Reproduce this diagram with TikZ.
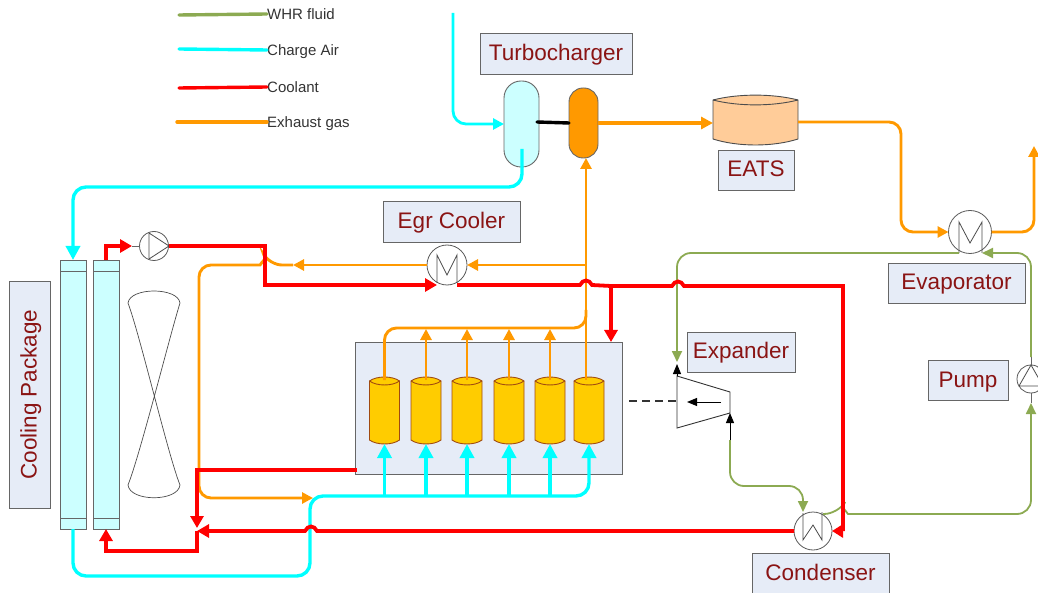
\documentclass[tikz,border=0pt]{standalone}
\usepackage{fontspec}
\setmainfont{Liberation Sans}
\usetikzlibrary{arrows.meta}
\definecolor{tagfill}{HTML}{E6ECF7}
\definecolor{tagtext}{HTML}{8A1414}
\definecolor{whr}{HTML}{8CAA52}
\definecolor{exhaust}{HTML}{FF9900}
\definecolor{cyan2}{HTML}{00FFFF}
\definecolor{paleair}{HTML}{CCFFFF}
\definecolor{cylfill}{HTML}{FFCC00}
\definecolor{cylline}{HTML}{A04A10}
\definecolor{eatsfill}{HTML}{FFCC99}
\tikzset{
	tag/.style={draw=black!60,fill=tagfill,line width=0.9pt,text=tagtext,inner sep=0pt,outer sep=0pt,text height=17pt,text depth=3pt,font=\fontsize{22.5}{26}\selectfont},
	legendtext/.style={anchor=west,inner sep=0pt,text=black!80,text height=13pt,text depth=1pt,font=\fontsize{15}{18}\selectfont},
	exch/.style={circle,draw=black!65,line width=0.8pt,fill=white,inner sep=0pt,outer sep=0pt},
	cooler/.style={draw=black!60,fill=paleair,line width=0.9pt,inner sep=0pt,outer sep=0pt,minimum width=26pt,minimum height=269pt},
	cylbox/.style={inner sep=0pt,outer sep=0pt,minimum width=30pt,minimum height=67pt},
	tipair/.style={-{Triangle[length=14pt,width=14pt]}},
	tiphot/.style={-{Triangle[length=12pt,width=13pt]}},
	tipexh/.style={-{Triangle[length=11pt,width=11pt]}},
	tipwhr/.style={-{Triangle[length=11pt,width=10pt]}},
	tipblk/.style={-{Triangle[length=10pt,width=8pt]}},
	air/.style={cyan2,line width=3.4pt,rounded corners=13pt},
	coolant/.style={red,line width=3.8pt,line join=miter},
	exh/.style={exhaust,line width=2.9pt,rounded corners=12pt},
	wf/.style={whr,line width=1.8pt,rounded corners=14pt},
	stub/.style={draw=black!60,line width=0.8pt}
}
\begin{document}
\begin{tikzpicture}[x=1pt,y=-1pt]
	\clip (0,0) rectangle (1038,593);
	% legend
	\node[legendtext] (lgwhr) at (267,14) {WHR fluid};
	\node[legendtext] (lgair) at (267,50) {Charge Air};
	\node[legendtext] (lgcool) at (267,87) {Coolant};
	\node[legendtext] (lgexh) at (267,122) {Exhaust gas};
	\coordinate (lgwhr0) at (179,15);
	\coordinate (lgair0) at (179,49);
	\coordinate (lgcool0) at (179,88);
	\coordinate (lgexh0) at (177,122);
	\draw[whr,line width=3.4pt,line cap=round] (lgwhr0) -- (lgwhr.west);
	\draw[cyan2,line width=3.4pt,line cap=round] (lgair0) -- (lgair.west);
	\draw[red,line width=3.4pt,line cap=round] (lgcool0) -- (lgcool.west);
	\draw[exhaust,line width=3.4pt,line cap=round] (lgexh0) -- (lgexh.west);

	% labels
	\node[tag,minimum width=152pt,minimum height=41pt] (tagturbo) at (556,53.5) {Turbocharger};
	\node[tag,minimum width=137pt,minimum height=41pt] (tagegr) at (451.5,221.5) {Egr Cooler};
	\node[tag,minimum width=76pt,minimum height=40pt] (tageats) at (756,170) {EATS};
	\node[tag,minimum width=137pt,minimum height=40pt] (tagevap) at (956.5,283) {Evaporator};
	\node[tag,minimum width=108pt,minimum height=40pt] (tagexp) at (741,352) {Expander};
	\node[tag,minimum width=80pt,minimum height=40pt] (tagpump) at (968,380) {Pump};
	\node[tag,minimum width=137pt,minimum height=41pt] (tagcond) at (820.5,573.5) {Condenser};
	\node[tag,minimum width=227pt,minimum height=41pt,rotate=90] (tagcp) at (29.5,394.5) {Cooling Package};

	% cooling package
	\node[cooler] (cool1) at (73,394.5) {};
	\node[cooler] (cool2) at (106,394.5) {};
	\foreach \i in {1,2}{
		\draw[black!60,line width=0.9pt] (cool\i.north west) ++(0,11) -- ++(26,0);
		\draw[black!60,line width=0.9pt] (cool\i.south west) ++(0,-11) -- ++(26,0);
	}
	% fan
	\draw[black!70,line width=0.7pt] (128,303) .. controls (130,287) and (178,287) .. (180,303)
		.. controls (170,335) and (140,455) .. (128,485)
		.. controls (130,502) and (178,502) .. (180,485)
		.. controls (168,455) and (140,335) .. (128,303) -- cycle;

	% engine
	\node[draw=black!60,fill=tagfill,line width=0.9pt,inner sep=0pt,outer sep=0pt,minimum width=267pt,minimum height=132pt] (engine) at (488.5,408) {};
	\foreach \i/\x in {1/384.5,2/426,3/467,4/509,5/550,6/589}{
		\node[cylbox] (cyl\i) at (\x,410.5) {};
		\draw[cylline,fill=cylfill,line width=0.9pt] (\x-15,381) .. controls (\x-8,375.7) and (\x+8,375.7) .. (\x+15,381)
			-- (\x+15,440) .. controls (\x+8,445.3) and (\x-8,445.3) .. (\x-15,440) -- cycle;
		\draw[cylline,line width=0.9pt] (\x-15,381) .. controls (\x-8,386.3) and (\x+8,386.3) .. (\x+15,381);
	}

	% turbocharger, eats
	\node[draw=black!60,fill=paleair,line width=0.9pt,rounded corners=17pt,inner sep=0pt,outer sep=0pt,minimum width=35pt,minimum height=86pt] (comp) at (521.5,124) {};
	\node[draw=black!60,fill=exhaust,line width=0.9pt,rounded corners=14pt,inner sep=0pt,outer sep=0pt,minimum width=29pt,minimum height=70pt] (turb) at (583.5,123) {};
	\node[inner sep=0pt,outer sep=0pt,minimum width=85pt,minimum height=50pt] (eats) at (755.5,120) {};
	\draw[black!70,fill=eatsfill,line width=0.9pt] (713,100) .. controls (738,93.5) and (773,93.5) .. (798,100)
		-- (798,139) .. controls (773,147) and (738,147) .. (713,139) -- cycle;
	\draw[black!70,line width=0.9pt] (713,100) .. controls (738,106.5) and (773,106.5) .. (798,100);
	\draw[black,line width=3.4pt,line cap=round] (comp.east) ++(-2,-2) -- (turb.west);

	% exchangers and pumps
	\node[exch,minimum size=40pt] (egr) at (447,265) {};
	\node[exch,minimum size=43pt] (evap) at (970,232) {};
	\node[exch,minimum size=38pt] (cond) at (813,531) {};
	\node[exch,minimum size=29pt] (pumpl) at (154,246) {};
	\node[exch,minimum size=28pt] (pumpr) at (1031,379) {};
	\draw[black!70,line width=0.8pt] (437,283) -- (437,255) -- (447,275) -- (457,255) -- (457,283);
	\draw[black!70,line width=0.8pt] (959,253) -- (959,222) -- (970,243) -- (982,222) -- (982,253);
	\draw[black!70,line width=0.8pt] (803,513) -- (803,540) -- (813,525) -- (822,540) -- (822,512);
	\draw[black!70,line width=0.8pt] (149,233) -- (169,246) -- (149,259) -- cycle;
	\draw[black!70,line width=0.8pt] (1031,365) -- (1019,386) -- (1043,386) -- cycle;

	% expander
	\coordinate (expa) at (677,376);
	\coordinate (expb) at (730,392);
	\coordinate (expc) at (730,413);
	\coordinate (expd) at (677,428);
	\coordinate (expin) at (730,440);
	\coordinate (expshaft) at (677,401);
	\coordinate (engshaft) at (629,401);
	\coordinate (expflow0) at (721,402);
	\coordinate (expflow1) at (687,402);
	\coordinate (expout) at (677,364);
	\draw[black!80,line width=0.9pt] (expa) -- (expb) -- (expc) -- (expd) -- cycle;
	\draw[black,line width=1pt,tipblk] (expflow0) -- (expflow1);
	\draw[black!80,line width=1.2pt,dash pattern=on 8pt off 5pt] (engshaft) -- (expshaft);

	% charge air
	\coordinate (airin) at (453,13);
	\coordinate (compout) at (522,149);
	\coordinate (airman) at (0,496);
	\draw[air,line width=2.8pt,tipexh] (airin) |- (comp.west);
	\draw[air,tipair] (compout) -- (522,187) -- (73,187) -- (cool1.north);
	\draw[air,tipair] (cool1.south) -- (73,576) -- (310,576) -- (310,496) -- (589,496) -- (cyl6.south);
	\foreach \i in {1,...,5}{
		\draw[air,tipair] (airman -| cyl\i.south) -- (cyl\i.south);
	}

	% exhaust
	\coordinate (exh6) at (586,380);
	\coordinate (egrtap) at (586,265);
	\coordinate (exhjoin) at (586,310);
	\coordinate (egrmid) at (293,265);
	\coordinate (egrend) at (313,498);
	\coordinate (exhend) at (1034,146);
	\draw[exh,tipexh] (exh6) -- (exh6 |- turb.south);
	\draw[exh,tipexh] (egrtap) -- (egr.east);
	\draw[exh,tipexh] (egr.west) -- (egrmid);
	\draw[exh,tipexh] (egrmid) -- (270,265) [sharp corners] .. controls (267,260) and (263,260) .. (260,265) [rounded corners=12pt] -- (199,265) -- (199,498) -- (egrend);
	\draw[exh] (cyl1.north) ++(0,3) -- (384.5,328) -- (586,328) -- (exhjoin);
	\foreach \i in {2,...,5}{
		\draw[exh,tipexh] (cyl\i.north) ++(0,3) -- (cyl\i.north |- 0,329);
	}
	\draw[exhaust,line width=4pt,-{Triangle[length=12pt,width=12pt]}] (turb.east) -- (turb.east -| eats.west);
	\draw[exh,tipexh] (eats.east |- 0,122) -- (901,122) -- (901,232) -- (evap.west);
	\draw[exh,tipexh] (evap.east) -- (1034,232) -- (exhend);

	% whr fluid
	\coordinate (evapout) at (959,253);
	\coordinate (expfeed) at (677,362);
	\coordinate (condin) at (803,512);
	\coordinate (condout) at (823,514);
	\coordinate (pumpin) at (1031,403);
	\coordinate (pumpout) at (1031,357);
	\coordinate (evapin) at (982,253);
	\draw[wf,tipwhr] (evapout) -- (677,253) -- (expfeed);
	\draw[wf,tipwhr] (expin) -- (730,486) -- (803,486) -- (condin);
	\draw[wf,tipwhr] (condout) -- (838,514) [sharp corners] .. controls (841,509) and (845,509) .. (848,514) [rounded corners=14pt] -- (1031,514) -- (pumpin);
	\draw[wf,tipwhr] (pumpout) -- (1031,253) -- (evapin);
	\draw[stub] (pumpin) -- (pumpr.south);
	\draw[stub] (pumpout) -- (pumpr.north);
	\draw[black,line width=1pt,tipblk] (expa) -- (expout);
	\draw[black,line width=1pt,tipblk] (expin) -- (expc);

	% coolant
	\coordinate (pumplin) at (132,246);
	\coordinate (egrin) at (437,285);
	\coordinate (egrout) at (457,285);
	\coordinate (engtap) at (611,286);
	\coordinate (engout) at (357,470);
	\coordinate (mix) at (197,531);
	\coordinate (condcorner) at (843,531);
	\draw[coolant,tiphot] (cool2.north) -- (106,246) -- (pumplin);
	\draw[stub] (pumplin) -- (pumpl.west);
	\draw[coolant,tiphot] (pumpl.east) -- (265,246) -- (265,285) -- (egrin);
	\draw[coolant] (egrout) -- (580,285) .. controls (583,279) and (589,279) .. (592,285) -- (engtap);
	\draw[coolant,tiphot] (engtap) -- (engtap |- engine.north);
	\draw[coolant] (engtap) -- (672,286) .. controls (675,280) and (681,280) .. (684,286) -- (843,286) -- (condcorner);
	\draw[red,-{Triangle[length=11pt,width=13pt]},line width=3.8pt] (condcorner) -- (cond.east);
	\draw[coolant,tiphot] (cond.west) -- (317,531) .. controls (314,525) and (308,525) .. (305,531) -- (mix);
	\draw[coolant,tiphot] (engout) -- (197,470) -- (197,528);
	\draw[coolant,tiphot] (mix) -- (197,551) -- (106,551) -- (cool2.south);
\end{tikzpicture}
\end{document}
